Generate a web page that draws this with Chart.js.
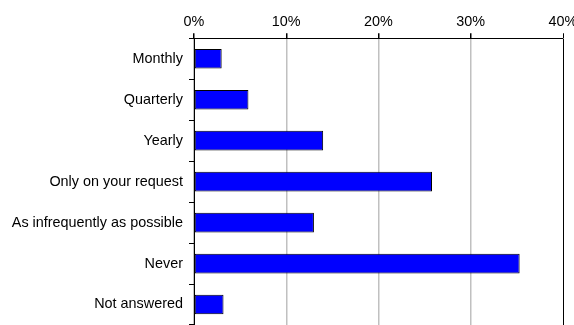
<!DOCTYPE html>
<html>
<head>
<meta charset="utf-8">
<script src="https://cdn.jsdelivr.net/npm/chart.js@4"></script>
<style>
  html, body { margin: 0; padding: 0; background: #fff; }
  #wrap { width: 574px; height: 325px; }
</style>
</head>
<body>
<div id="wrap"><canvas id="chart"></canvas></div>
<script>
// ── DATA ──────────────────────────────────────────────────────────────────────
const CATEGORIES = ['Monthly', 'Quarterly', 'Yearly', 'Only on your request',
                    'As infrequently as possible', 'Never', 'Not answered'];
const SHARES = [3.0, 5.9, 14.0, 25.8, 13.0, 35.3, 3.2];
const X_TICKS = [0, 10, 20, 30, 40];

// ── CHART ─────────────────────────────────────────────────────────────────────
Chart.defaults.font.family = '"Liberation Sans", Arial, sans-serif';
Chart.defaults.font.size = 14.4;
Chart.defaults.color = '#000';

new Chart(document.getElementById('chart'), {
  type: 'bar',
  data: {
    labels: CATEGORIES,
    datasets: [{
      data: SHARES,
      backgroundColor: '#0000ff',
      borderColor: '#000',
      borderWidth: 1,
      borderSkipped: false,
      barPercentage: 0.48,
      categoryPercentage: 1,
    }],
  },
  options: {
    indexAxis: 'y',
    responsive: true,
    maintainAspectRatio: false,
    animation: false,
    layout: { padding: { top: 10, left: 0, right: 0, bottom: 0 } },
    plugins: { legend: { display: false }, tooltip: { enabled: false } },
    scales: {
      x: {
        position: 'top',
        min: X_TICKS[0],
        max: X_TICKS[X_TICKS.length - 1],
        afterBuildTicks: s => { s.ticks = X_TICKS.map(v => ({ value: v })); },
        afterFit: s => { s.paddingRight = 11; },
        ticks: { callback: v => v + '%', padding: 3, color: '#000' },
        grid: {
          color: c => (c.tick && c.tick.value === 40 ? '#000' : '#c0c0c0'),
          lineWidth: c => (c.tick && c.tick.value === 40 ? 1 : 1.5),
          tickColor: '#000',
          tickLength: 5,
        },
        border: { color: '#000', width: 1 },
      },
      y: {
        afterFit: s => { s.width = 194; s.paddingTop = 0; s.paddingBottom = 0; },
        ticks: { padding: 6, color: '#000' },
        grid: {
          offset: true,
          drawOnChartArea: false,
          tickColor: '#000',
          tickLength: 5,
        },
        border: { color: '#000', width: 1 },
      },
    },
  },
});
</script>
</body>
</html>
